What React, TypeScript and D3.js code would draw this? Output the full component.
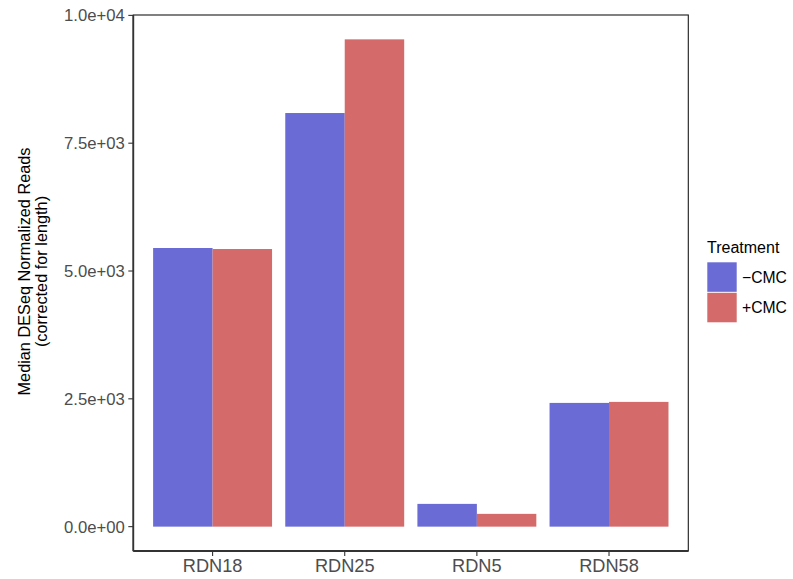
import React from "react";
import * as d3 from "d3";

const genes = ["RDN18", "RDN25", "RDN5", "RDN58"];
const treatments = ["\u2212CMC", "+CMC"];
const minusCMC = [5450, 8090, 445, 2420];
const plusCMC = [5430, 9531, 250, 2440];
const yTicks = [0, 2500, 5000, 7500, 10000];
const colors = ["#6A6BD5", "#D46A6A"];

const W = 793;
const H = 579;
const panel = { left: 133.3, right: 688.3, top: 15, bottom: 551 };
const font = "'Liberation Sans', Arial, Helvetica, sans-serif";

export default function App() {
  const series = [minusCMC, plusCMC];
  const maxVal = d3.max(series.flat()) as number;
  const pad = maxVal * 0.05;

  const y = d3
    .scaleLinear()
    .domain([-pad, maxVal + pad])
    .range([panel.bottom, panel.top]);

  // discrete axis with 0.6-unit padding on each side, bars 0.9 units wide
  const unit = (panel.right - panel.left) / (genes.length - 1 + 1.2);
  const xCenter = d3
    .scalePoint<string>()
    .domain(genes)
    .range([panel.left + 0.6 * unit, panel.right - 0.6 * unit]);
  const barW = 0.9 * unit;
  const sub = d3
    .scaleBand<number>()
    .domain([0, 1])
    .range([-barW / 2, barW / 2])
    .padding(0);

  const fmt = (v: number) => {
    const s = v.toExponential(1);
    const [m, e] = s.split("e");
    const sign = e.startsWith("-") ? "-" : "+";
    const digits = e.replace(/[+-]/, "").padStart(2, "0");
    return `${m}e${sign}${digits}`;
  };

  const titleY = 271.5;

  return (
    <svg width={W} height={H} style={{ position: "absolute", left: 0, top: 0 }}>
      <rect width={W} height={H} fill="#fff" />
      {/* bars */}
      {genes.map((g, gi) =>
        series.map((vals, si) => {
          const x0 = (xCenter(g) as number) + (sub(si) as number);
          return (
            <rect
              key={`${g}-${si}`}
              x={x0}
              y={y(vals[gi])}
              width={sub.bandwidth()}
              height={y(0) - y(vals[gi])}
              fill={colors[si]}
            />
          );
        })
      )}
      {/* panel border */}
      <rect
        x={panel.left}
        y={panel.top}
        width={panel.right - panel.left}
        height={panel.bottom - panel.top}
        fill="none"
        stroke="#1a1a1a"
        strokeWidth={1.1}
      />
      <line x1={panel.left} x2={panel.left} y1={panel.top} y2={panel.bottom} stroke="#333" strokeWidth={1.8} />
      <line x1={panel.left} x2={panel.right} y1={panel.bottom} y2={panel.bottom} stroke="#333" strokeWidth={1.8} />
      {/* y axis */}
      {yTicks.map((t) => (
        <g key={t}>
          <line x1={panel.left - 5} x2={panel.left} y1={y(t)} y2={y(t)} stroke="#333" strokeWidth={1.1} />
          <text
            x={panel.left - 8.5}
            y={y(t)}
            dy="0.36em"
            textAnchor="end"
            fontFamily={font}
            fontSize={16.7}
            fill="#4d4d4d"
          >
            {fmt(t)}
          </text>
        </g>
      ))}
      {/* x axis */}
      {genes.map((g) => (
        <g key={g}>
          <line
            x1={xCenter(g)}
            x2={xCenter(g)}
            y1={panel.bottom}
            y2={panel.bottom + 5}
            stroke="#333"
            strokeWidth={1.1}
          />
          <text
            x={xCenter(g)}
            y={572.3}
            textAnchor="middle"
            fontFamily={font}
            fontSize={18.2}
            fill="#4d4d4d"
          >
            {g}
          </text>
        </g>
      ))}
      {/* y title */}
      <g transform={`translate(30, ${titleY}) rotate(-90)`}>
        <text textAnchor="middle" fontFamily={font} fontSize={16.3} fill="#000">
          Median DESeq Normalized Reads
        </text>
        <text y={16.5} textAnchor="middle" fontFamily={font} fontSize={16.3} fill="#000">
          (corrected for length)
        </text>
      </g>
      {/* legend */}
      <text x={707} y={253.3} fontFamily={font} fontSize={16} fill="#000">
        Treatment
      </text>
      {treatments.map((t, i) => (
        <g key={t}>
          <rect x={707.3} y={262.3 + i * 30.5} width={29.4} height={29.5} fill={colors[i]} />
          <text x={742} y={277 + i * 30.5} dy="0.36em" fontFamily={font} fontSize={15.7} fill="#000">
            {t}
          </text>
        </g>
      ))}
    </svg>
  );
}
